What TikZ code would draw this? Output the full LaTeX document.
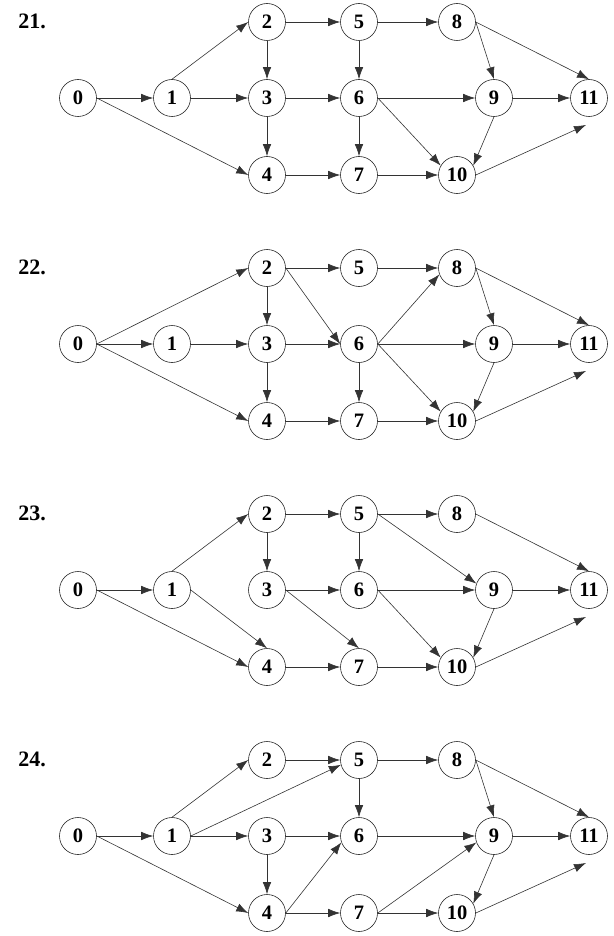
\documentclass[tikz,border=0pt]{standalone}
\usepackage{fontspec}
\setmainfont{Liberation Serif}
\usetikzlibrary{arrows.meta}
\tikzstyle{job} = [circle, draw=black!85, line width=0.6pt, minimum size=37pt, inner sep=0pt, font=\fontsize{20.5}{20.5}\selectfont\bfseries]
\tikzstyle{tag} = [font=\fontsize{22}{22}\selectfont\bfseries]
\tikzstyle{dep} = [draw=black!80, line width=0.6pt, -{Latex[length=12pt,width=8.5pt]}]

% the same twelve jobs in every network
\newcommand{\jobnet}[1]{%
        \node (t) [tag] at (32,21) {#1};
        \node (n0) [job] at (78,98) {0};
        \node (n1) [job] at (172,98) {1};
        \node (n2) [job] at (267,22) {2};
        \node (n3) [job] at (267,98) {3};
        \node (n4) [job] at (267,175) {4};
        \node (n5) [job] at (359,22) {5};
        \node (n6) [job] at (359,98) {6};
        \node (n7) [job] at (359,175) {7};
        \node (n8) [job] at (457,22) {8};
        \node (n9) [job] at (494,98) {9};
        \node (n10) [job] at (457,175) {10};
        \node (n11) [job] at (589,98) {11};
        \coordinate (end) at (586,125);
}

\begin{document}
\begin{tikzpicture}[x=1pt, y=-1pt]
        \useasboundingbox (0,0) rectangle (613,936);

        \begin{scope}
        \jobnet{21.}
        \path (n0.east) edge[dep] (n1.west) (n0.east) edge[dep] (n4.west)
              (n1.north) edge[dep] (n2.west) (n1.east) edge[dep] (n3.west)
              (n2.east) edge[dep] (n5.west) (n2.south) edge[dep] (n3.north)
              (n3.east) edge[dep] (n6.west) (n3.south) edge[dep] (n4.north)
              (n4.east) edge[dep] (n7.west)
              (n5.east) edge[dep] (n8.west) (n5.south) edge[dep] (n6.north)
              (n6.east) edge[dep] (n9.west) (n6.south) edge[dep] (n7.north) (n6.east) edge[dep] (n10.150)
              (n7.east) edge[dep] (n10.west)
              (n8.east) edge[dep] (n9.north) (n8.east) edge[dep] (n11.north)
              (n9.east) edge[dep] (n11.west) (n9.south) edge[dep] (n10.30)
              (n10.east) edge[dep] (end);
        \end{scope}

        \begin{scope}[yshift=-246pt]
        \jobnet{22.}
        \path (n0.east) edge[dep] (n2.west) (n0.east) edge[dep] (n1.west) (n0.east) edge[dep] (n4.west)
              (n1.east) edge[dep] (n3.west)
              (n2.east) edge[dep] (n5.west) (n2.south) edge[dep] (n3.north) (n2.east) edge[dep] (n6.west)
              (n3.east) edge[dep] (n6.west) (n3.south) edge[dep] (n4.north)
              (n4.east) edge[dep] (n7.west)
              (n5.east) edge[dep] (n8.west)
              (n6.east) edge[dep] (n8.200) (n6.east) edge[dep] (n9.west) (n6.east) edge[dep] (n10.150) (n6.south) edge[dep] (n7.north)
              (n7.east) edge[dep] (n10.west)
              (n8.east) edge[dep] (n9.north) (n8.east) edge[dep] (n11.north)
              (n9.east) edge[dep] (n11.west) (n9.south) edge[dep] (n10.30)
              (n10.east) edge[dep] (end);
        \end{scope}

        \begin{scope}[yshift=-492pt]
        \jobnet{23.}
        \path (n0.east) edge[dep] (n1.west) (n0.east) edge[dep] (n4.west)
              (n1.north) edge[dep] (n2.west) (n1.east) edge[dep] (n4.north)
              (n2.east) edge[dep] (n5.west) (n2.south) edge[dep] (n3.north)
              (n3.east) edge[dep] (n6.west) (n3.east) edge[dep] (n7.north)
              (n4.east) edge[dep] (n7.west)
              (n5.east) edge[dep] (n8.west) (n5.south) edge[dep] (n6.north) (n5.east) edge[dep] (n9.160)
              (n6.east) edge[dep] (n9.west) (n6.east) edge[dep] (n10.150)
              (n7.east) edge[dep] (n10.west)
              (n8.east) edge[dep] (n11.north)
              (n9.east) edge[dep] (n11.west) (n9.south) edge[dep] (n10.30)
              (n10.east) edge[dep] (end);
        \end{scope}

        \begin{scope}[yshift=-738pt]
        \jobnet{24.}
        \path (n0.east) edge[dep] (n1.west) (n0.east) edge[dep] (n4.west)
              (n1.north) edge[dep] (n2.west) (n1.east) edge[dep] (n5.195) (n1.east) edge[dep] (n3.west)
              (n2.east) edge[dep] (n5.west)
              (n3.east) edge[dep] (n6.west) (n3.south) edge[dep] (n4.north)
              (n4.east) edge[dep] (n6.200) (n4.east) edge[dep] (n7.west)
              (n5.east) edge[dep] (n8.west) (n5.south) edge[dep] (n6.north)
              (n6.east) edge[dep] (n9.west)
              (n7.east) edge[dep] (n9.200) (n7.east) edge[dep] (n10.west)
              (n8.east) edge[dep] (n9.north) (n8.east) edge[dep] (n11.north)
              (n9.east) edge[dep] (n11.west) (n9.south) edge[dep] (n10.30)
              (n10.east) edge[dep] (end);
        \end{scope}

\end{tikzpicture}
\end{document}
